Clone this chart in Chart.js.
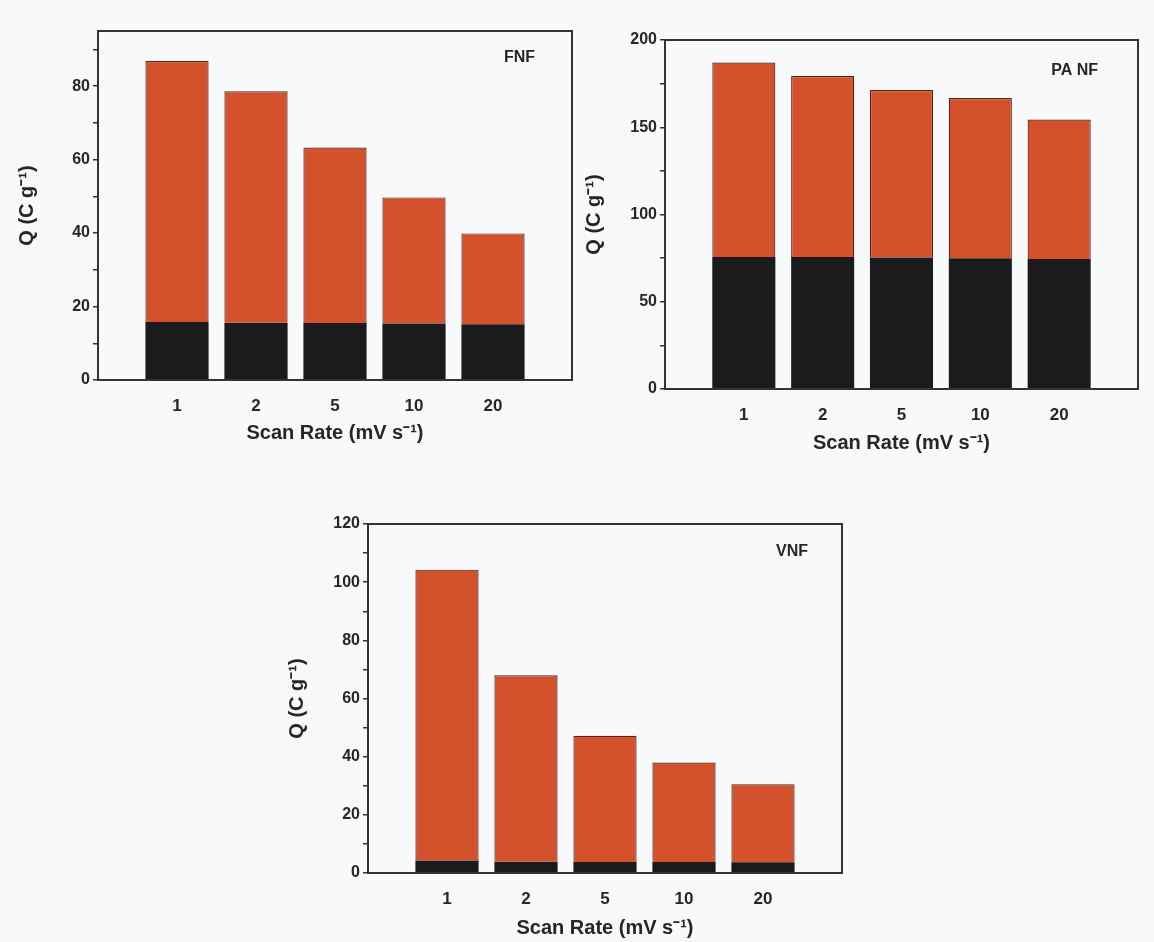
<!DOCTYPE html>
<html>
<head>
<meta charset="utf-8">
<script src="https://cdn.jsdelivr.net/npm/chart.js@4.4.0/dist/chart.umd.min.js"></script>
<style>
  html, body { margin: 0; padding: 0; background: #f8f9fa; }
  body { width: 1154px; height: 942px; position: relative; overflow: hidden; }
  canvas { position: absolute; left: 0; top: 0; }
</style>
</head>
<body>
<canvas id="fnf" width="1154" height="942"></canvas>
<canvas id="panf" width="1154" height="942"></canvas>
<canvas id="vnf" width="1154" height="942"></canvas>
<script>
// Scan rates (mV s-1) shared by all three panels
const scanRates = ['1', '2', '5', '10', '20'];

// Charge Q (C g-1): lower (black) segment and total bar height per scan rate
const fnfBase    = [15.8, 15.6, 15.5, 15.4, 15.2];
const fnfTotal   = [86.8, 78.6, 63.3, 49.7, 39.9];
const panfBase   = [75.6, 75.6, 75.3, 74.9, 74.5];
const panfTotal  = [187.1, 179.3, 171.3, 166.8, 154.4];
const vnfBase    = [4.3, 3.9, 3.8, 3.8, 3.7];
const vnfTotal   = [104.3, 68.0, 47.2, 38.0, 30.5];

// Y-axis ranges: [max, labelled step, tick-mark step]
const fnfAxis  = [95, 20, 10];
const panfAxis = [200, 50, 25];
const vnfAxis  = [120, 20, 10];

const FONT = "'Liberation Sans', Arial, Helvetica, sans-serif";
const ORANGE = '#d3512b';
const ORANGE_EDGE = '#5a2412';
const BLACK = '#1b1b1d';
const INK = '#262626';

// Frame round the plot area plus the sample name in the top-right corner
const framePlugin = {
  id: 'frame',
  afterDatasetsDraw(chart, args, opts) {
    const { ctx, chartArea: a } = chart;
    ctx.save();
    ctx.strokeStyle = '#333';
    ctx.lineWidth = 2;
    ctx.strokeRect(a.left, a.top, a.right - a.left, a.bottom - a.top);
    ctx.fillStyle = INK;
    ctx.font = 'bold 16px ' + FONT;
    ctx.textAlign = 'right';
    ctx.textBaseline = 'middle';
    ctx.fillText(opts.name, a.right - opts.dx, a.top + opts.dy);
    ctx.restore();
  }
};

function makePanel(id, name, base, total, axis, box, yTitleX, xTitleY, nameDx, nameDy) {
  const [yMax, yMajor, yMinor] = axis;
  const labels = [''].concat(scanRates, ['']);
  const lower = [null].concat(base, [null]);
  const upper = [null].concat(total.map((t, i) => +(t - base[i]).toFixed(2)), [null]);

  const titleSize = 20;
  const titleOff = titleSize * 1.2 / 2;
  const padLeft = yTitleX - titleOff;
  const yWidth = box.l - padLeft;
  const xBottom = xTitleY + titleOff;
  const xHeight = xBottom - box.b;

  new Chart(document.getElementById(id), {
    type: 'bar',
    data: {
      labels: labels,
      datasets: [
        { data: lower, backgroundColor: BLACK, borderColor: BLACK, borderWidth: 0 },
        { data: upper, backgroundColor: ORANGE, borderColor: ORANGE_EDGE, borderWidth: 1.2 }
      ]
    },
    options: {
      responsive: false,
      animation: false,
      devicePixelRatio: 1,
      layout: { padding: { left: padLeft, top: box.t, right: 1154 - box.r, bottom: 942 - xBottom } },
      datasets: { bar: { categoryPercentage: 0.8, barPercentage: 1.0 } },
      plugins: {
        legend: { display: false },
        tooltip: { enabled: false },
        frame: { name: name, dx: nameDx, dy: nameDy }
      },
      scales: {
        x: {
          stacked: true,
          offset: false,
          grid: { display: false, drawTicks: false },
          border: { display: false },
          ticks: { color: INK, font: { family: FONT, size: 17, weight: 'bold' }, padding: 16, maxRotation: 0, autoSkip: false },
          title: { display: true, text: 'Scan Rate (mV s\u207B\u00B9)', color: INK, padding: 0,
                   font: { family: FONT, size: titleSize, weight: 'bold' } },
          afterFit(s) { s.height = xHeight; }
        },
        y: {
          stacked: true,
          min: 0,
          max: yMax,
          grid: { display: true, drawOnChartArea: false, drawTicks: true, tickLength: 5, color: '#333', lineWidth: 1.5 },
          border: { display: false },
          ticks: {
            stepSize: yMinor,
            includeBounds: false,
            padding: 3,
            color: INK,
            font: { family: FONT, size: 16, weight: 'bold' },
            callback: (v) => (v % yMajor === 0 ? v : '')
          },
          title: { display: true, text: 'Q (C g\u207B\u00B9)', color: INK, padding: 0,
                   font: { family: FONT, size: titleSize, weight: 'bold' } },
          afterFit(s) { s.width = yWidth; }
        }
      }
    },
    plugins: [framePlugin]
  });
}

makePanel('fnf', 'FNF', fnfBase, fnfTotal, fnfAxis,
  { l: 98, t: 31, r: 572, b: 380 }, 27, 433, 37, 27);
makePanel('panf', 'PA NF', panfBase, panfTotal, panfAxis,
  { l: 665, t: 40, r: 1140, b: 389 }, 594, 443, 40, 31);
makePanel('vnf', 'VNF', vnfBase, vnfTotal, vnfAxis,
  { l: 368, t: 524, r: 842, b: 873 }, 297, 928, 34, 28);
</script>
</body>
</html>
